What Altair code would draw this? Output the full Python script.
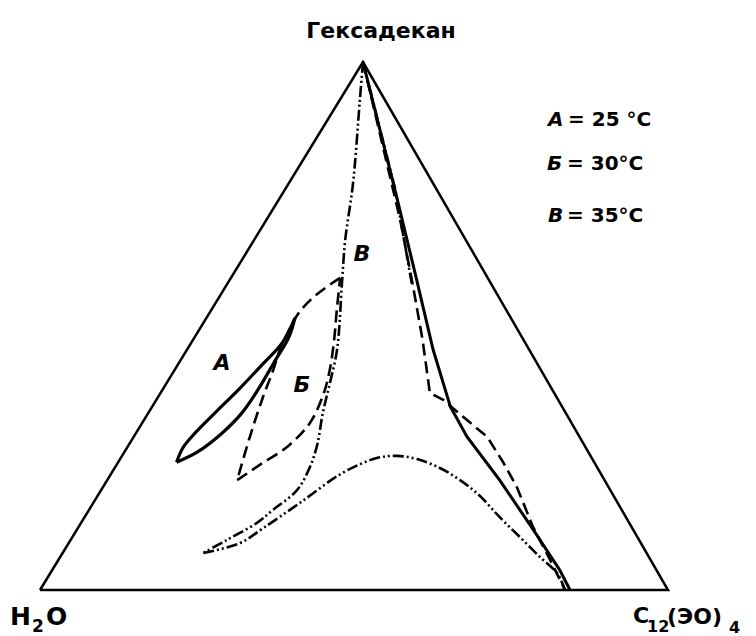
import altair as alt
import pandas as pd

# Phase boundaries of the water / hexadecane / C12(EO)4 system.
# Each point: wt% hexadecane (HEX) and wt% C12(EO)4 (SURF); the rest is water.

# A = 25 °C (solid)
A_OUTER_HEX = [24.2, 26.9, 29.7, 33.5, 38.3, 42.6, 46.8, 51.5]
A_OUTER_SURF = [9.3, 8.9, 9.4, 10.6, 12.2, 13.4, 14.5, 14.1]
A_INNER_HEX = [51.5, 47.9, 43.0, 37.9, 33.5, 29.7, 26.1, 24.2]
A_INNER_SURF = [14.1, 15.0, 15.1, 15.2, 14.9, 13.7, 11.6, 9.3]
A_RIGHT_HEX = [100, 73.9, 58.7, 45.5, 34.7, 29.0, 20.8, 11.4, 3.8, 0]
A_RIGHT_SURF = [0, 18.9, 29.8, 39.2, 47.5, 53.1, 62.5, 72.7, 80.8, 84.4]

# Б = 30 °C (dashed)
B_LEFT_HEX = [59.1, 57.2, 54.9, 52.3, 48.7, 45.5, 41.7, 36.6, 29.0, 20.8]
B_LEFT_SURF = [17.4, 16.0, 14.8, 14.2, 14.4, 14.8, 15.7, 16.7, 18.5, 20.7]
B_INNER_HEX = [20.8, 23.7, 27.1, 31.6, 36.9, 41.7, 47.3, 53.0, 59.1]
B_INNER_SURF = [20.7, 22.8, 25.4, 26.7, 26.1, 24.7, 22.5, 20.0, 17.4]
B_RIGHT_HEX = [100, 70.1, 57.4, 47.3, 37.3, 36.0, 32.8, 29.0, 24.1, 19.5, 11.9, 5.7, 0]
B_RIGHT_SURF = [0, 21.3, 29.9, 36.6, 42.9, 45.7, 50.5, 56.3, 61.4, 65.9, 72.4, 78.3, 83.6]

# В = 35 °C (dash-dot-dot)
C_LEFT_HEX = [100, 92.8, 77.1, 66.3, 58.1, 45.5, 39.2, 33.5, 27.5, 23.3, 18.9, 15.2, 12.7, 9.5, 7.0]
C_LEFT_SURF = [0, 3.2, 10.2, 14.5, 18.2, 23.9, 26.0, 27.8, 30.0, 31.0, 31.2, 29.3, 28.0, 24.9, 22.4]
C_DOME_HEX = [7.0, 8.9, 11.7, 16.5, 22.2, 25.0, 25.4, 24.8, 23.1, 20.8, 17.8, 13.8, 10.0, 6.25, 3.2, 0]
C_DOME_SURF = [22.4, 27.3, 29.5, 32.9, 36.8, 40.8, 43.8, 47.3, 51.8, 56.2, 60.9, 66.1, 71.3, 76.4, 80.7, 83.6]
C_RIGHT_HEX = [100, 75.8, 57.8]
C_RIGHT_SURF = [0, 17.6, 29.5]

# Triangle corners: water, C12(EO)4, hexadecane
CORNER_HEX = [0, 0, 100, 0]
CORNER_SURF = [0, 100, 0, 0]

APEX = 323 / 628  # horizontal position of the hexadecane apex along the base


def frame(segments):
    rows = []
    for seg, (hexa, surf) in enumerate(segments):
        for i, (h, s) in enumerate(zip(hexa, surf)):
            y = h / 100
            rows.append({"seg": seg, "i": i, "x": s / 100 + APEX * y, "y": y})
    return pd.DataFrame(rows)


W, H = 756, 636
xs = alt.Scale(domain=[-40 / 628, 716 / 628], nice=False, zero=False)
ys = alt.Scale(domain=[-46 / 528, 590 / 528], nice=False, zero=False)


def lines(df, **mark):
    return alt.Chart(df).mark_line(color="black", strokeCap="butt", **mark).encode(
        x=alt.X("x:Q", scale=xs, axis=None),
        y=alt.Y("y:Q", scale=ys, axis=None),
        detail="seg:N",
        order="i:Q",
    )


DASH = [12, 6]
DASH_DOT_DOT = [11, 3, 2, 3, 2, 3]

layers = [
    lines(frame([(CORNER_HEX, CORNER_SURF)]), strokeWidth=2.5, strokeJoin="miter"),
    lines(frame([(A_OUTER_HEX, A_OUTER_SURF), (A_INNER_HEX, A_INNER_SURF)]),
          strokeWidth=3.2, interpolate="catmull-rom"),
    lines(frame([(A_RIGHT_HEX, A_RIGHT_SURF)]), strokeWidth=3),
    lines(frame([(B_LEFT_HEX, B_LEFT_SURF), (B_INNER_HEX, B_INNER_SURF)]),
          strokeWidth=2.6, strokeDash=DASH, interpolate="catmull-rom"),
    lines(frame([(B_RIGHT_HEX, B_RIGHT_SURF)]), strokeWidth=2.6, strokeDash=DASH),
    lines(frame([(C_LEFT_HEX, C_LEFT_SURF), (C_DOME_HEX, C_DOME_SURF)]),
          strokeWidth=2.6, strokeDash=DASH_DOT_DOT, interpolate="catmull-rom"),
    lines(frame([(C_RIGHT_HEX, C_RIGHT_SURF)]), strokeWidth=2.6, strokeDash=DASH_DOT_DOT),
]

FONT = "DejaVu Sans"


def label(text, x, y, size, align="left", style="normal", weight="bold"):
    return alt.Chart(alt.Data(values=[{}])).mark_text(
        text=text, align=align, baseline="alphabetic", font=FONT,
        fontSize=size, fontStyle=style, fontWeight=weight, color="black",
    ).encode(x=alt.value(x), y=alt.value(y))


texts = [
    # corner names
    label("Гексадекан", 381, 38, 22, align="center"),
    label("H", 10, 625, 25),
    label("2", 32, 632, 17),
    label("O", 46, 625, 25),
    label("C", 633, 623, 22),
    label("12", 647, 632, 16),
    label("(ЭО)", 667, 624, 22),
    label("4", 729, 633, 16),
    # temperature key
    label("А", 548, 126, 20, style="italic"),
    label("= 25 °C", 568, 126, 20),
    label("Б", 547, 170, 20, style="italic"),
    label("= 30°C", 567, 170, 20),
    label("В", 548, 222, 20, style="italic"),
    label("= 35°C", 567, 222, 20),
    # curve names
    label("А", 222, 370, 22, align="center", style="italic"),
    label("Б", 302, 392, 22, align="center", style="italic"),
    label("В", 362, 261, 22, align="center", style="italic"),
]

chart = alt.layer(*layers, *texts).properties(
    width=W, height=H,
    autosize=alt.AutoSizeParams(type="none"),
    padding=0,
    background="white",
).configure_view(stroke=None)

chart.save("out.html", embed_options={"renderer": "svg", "actions": False})
